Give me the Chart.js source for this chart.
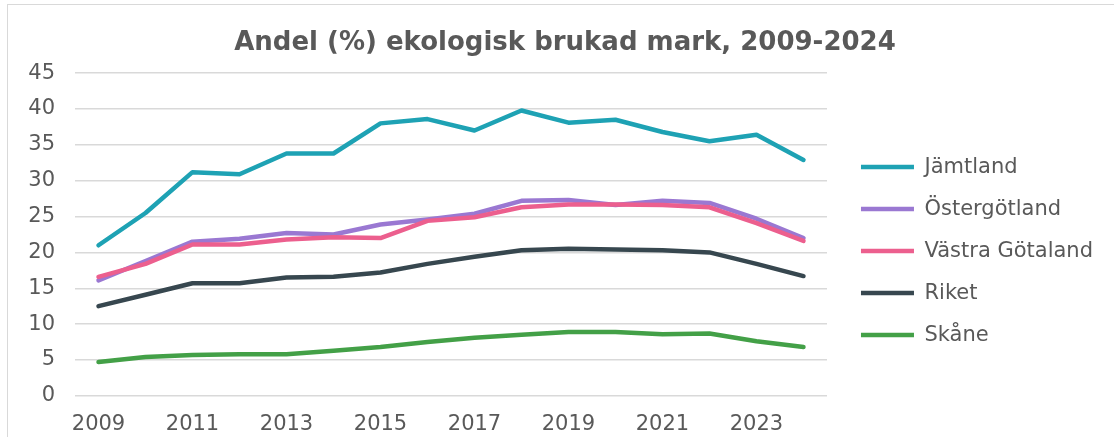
<!DOCTYPE html>
<html>
<head>
<meta charset="utf-8">
<script src="https://cdn.jsdelivr.net/npm/chart.js@4/dist/chart.umd.min.js"></script>
<style>
    html, body { margin: 0; padding: 0; background: #fff; }
    #frame {
        position: absolute; left: 7px; top: 4px;
        width: 1120px; height: 450px;
        border: 1px solid #d9d9d9; box-sizing: border-box;
    }
    #wrap { position: absolute; left: 0; top: 0; width: 1106px; height: 440px; }
</style>
</head>
<body>
<div id="frame"><div id="wrap"><canvas id="chart"></canvas></div></div>
<script>
// --- Data ---
const years = ["2009","2010","2011","2012","2013","2014","2015","2016","2017","2018","2019","2020","2021","2022","2023","2024"];
const jamtland     = [21.0, 25.5, 31.2, 30.9, 33.8, 33.8, 38.0, 38.6, 37.0, 39.8, 38.1, 38.5, 36.8, 35.5, 36.4, 32.9];
const ostergotland = [16.1, 18.8, 21.5, 21.9, 22.7, 22.5, 23.9, 24.6, 25.4, 27.2, 27.3, 26.6, 27.2, 26.9, 24.7, 22.0];
const vastraGot    = [16.6, 18.4, 21.1, 21.1, 21.8, 22.1, 22.0, 24.4, 24.9, 26.3, 26.7, 26.7, 26.6, 26.3, 24.1, 21.6];
const riket        = [12.5, 14.1, 15.7, 15.7, 16.5, 16.6, 17.2, 18.4, 19.4, 20.3, 20.5, 20.4, 20.3, 20.0, 18.4, 16.7];
const skane        = [4.7, 5.4, 5.7, 5.8, 5.8, 6.3, 6.8, 7.5, 8.1, 8.5, 8.9, 8.9, 8.6, 8.7, 7.6, 6.8];

const FONT = "'DejaVu Sans', Verdana, sans-serif";
const TXT = "#595959";
const LEGEND_GAP = 13;

function series(label, data, color, order) {
    return {
        label: label,
        data: data,
        borderColor: color,
        backgroundColor: color,
        borderWidth: 4.5,
        borderCapStyle: "round",
        borderJoinStyle: "round",
        pointRadius: 0,
        pointHoverRadius: 0,
        tension: 0,
        fill: false,
        order: order
    };
}

// wider gap between plot and legend, like Excel
const legendGap = {
    id: "legendGap",
    beforeLayout(chart) {
        const leg = chart.legend;
        if (!leg || leg._gapPatched) return;
        leg._gapPatched = true;
        const fit = leg.fit.bind(leg);
        const draw = leg.draw.bind(leg);
        leg.fit = function () { fit(); this.width += LEGEND_GAP; };
        leg.draw = function () {
            this.left += LEGEND_GAP;
            draw();
            this.left -= LEGEND_GAP;
        };
    }
};

new Chart(document.getElementById("chart").getContext("2d"), {
    type: "line",
    data: {
        labels: years,
        datasets: [
            series("Jämtland", jamtland, "#1ea2b4", 1),
            series("Östergötland", ostergotland, "#9a78d2", 3),
            series("Västra Götaland", vastraGot, "#ec5f8e", 2),
            series("Riket", riket, "#37474f", 4),
            series("Skåne", skane, "#43a047", 5)
        ]
    },
    plugins: [legendGap],
    options: {
        responsive: true,
        maintainAspectRatio: false,
        animation: false,
        layout: { padding: { left: 19, right: 11, top: 8, bottom: 0 } },
        scales: {
            x: {
                offset: true,
                grid: { display: false },
                border: { display: false },
                ticks: {
                    color: TXT,
                    font: { family: FONT, size: 21 },
                    maxRotation: 0,
                    autoSkip: false,
                    padding: 8,
                    callback: function (v, i) { return i % 2 === 0 ? years[i] : ""; }
                }
            },
            y: {
                min: 0,
                max: 45,
                border: { display: false },
                grid: { color: "#d9d9d9", lineWidth: 1.5, drawTicks: false },
                ticks: {
                    stepSize: 5,
                    color: TXT,
                    font: { family: FONT, size: 21 },
                    padding: 20
                },
                afterFit: function (scale) { scale.width = 48; }
            }
        },
        plugins: {
            title: {
                display: true,
                text: "Andel (%) ekologisk brukad mark, 2009-2024",
                color: TXT,
                font: { family: FONT, size: 26, weight: "bold" },
                padding: { top: 15, bottom: 14 }
            },
            legend: {
                position: "right",
                title: {
                    display: true,
                    text: "",
                    font: { size: 1 },
                    padding: { top: 43, bottom: 0 }
                },
                labels: {
                    usePointStyle: true,
                    pointStyle: "line",
                    pointStyleWidth: 53,
                    boxHeight: 4,
                    color: TXT,
                    font: { family: FONT, size: 21 },
                    padding: 21,
                    sort: function (a, b) { return a.datasetIndex - b.datasetIndex; }
                }
            },
            tooltip: { enabled: false }
        }
    }
});
</script>
</body>
</html>
